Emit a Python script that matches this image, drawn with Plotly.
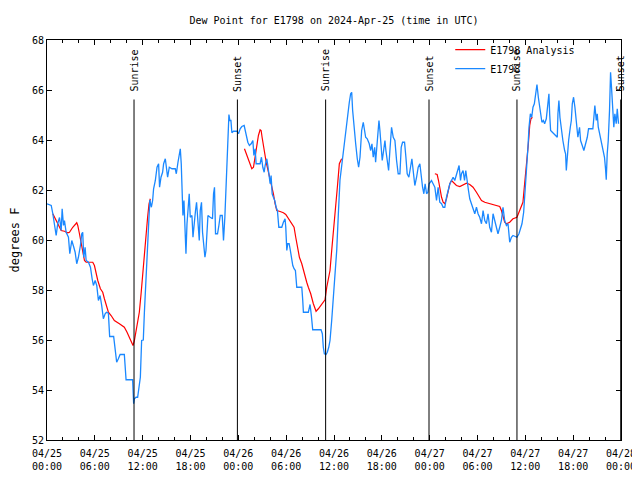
import pandas as pd
import plotly.graph_objects as go

BASE = pd.Timestamp("2024-04-25 00:00")

# E1798 observations: hours since 2024-04-25 00:00 UTC, dew point (F)
obs_hours = [0.0, 0.53, 0.73, 0.94, 1.15, 1.35, 1.57, 1.78, 1.90, 2.07, 2.19, 2.40, 2.69, 2.86, 3.11, 3.36, 3.53, 3.73, 3.94, 4.19,
             4.36, 4.48, 4.61, 4.78, 4.91, 5.20, 5.45, 5.66, 5.82, 6.04, 6.24, 6.45, 6.66, 6.86, 7.07, 7.29, 7.45, 7.70, 7.86, 8.36,
             8.54, 8.74, 8.95, 9.17, 9.70, 9.83, 9.92, 10.74, 10.79, 10.87, 10.96, 11.17, 11.37, 11.58, 11.71, 11.87, 12.08, 12.21, 12.42, 12.62,
             12.80, 12.90, 13.09, 13.25, 13.37, 13.59, 13.80, 14.00, 14.12, 14.30, 14.50, 14.63, 14.84, 14.96, 15.13, 15.34, 15.68, 16.09, 16.22, 16.43,
             16.59, 16.72, 16.84, 16.93, 17.05, 17.18, 17.31, 17.43, 17.56, 17.72, 17.84, 17.97, 18.18, 18.31, 18.47, 18.63, 18.76, 18.93, 19.10, 19.22,
             19.38, 19.51, 19.68, 19.81, 19.94, 20.06, 20.19, 20.47, 20.76, 20.89, 21.01, 21.14, 21.39, 21.56, 21.73, 21.98, 22.14, 22.31, 22.44, 22.56,
             22.69, 22.82, 22.94, 23.07, 23.19, 23.39, 23.82, 24.02, 24.23, 24.44, 24.73, 24.98, 25.19, 25.39, 25.61, 25.82, 25.95, 26.11, 26.23, 26.73,
             26.90, 27.07, 27.24, 27.36, 27.57, 27.70, 27.82, 27.99, 28.11, 28.24, 28.40, 28.57, 28.74, 28.90, 29.08, 29.45, 29.65, 29.86, 29.95, 30.08,
             30.20, 30.37, 30.49, 30.62, 30.83, 30.99, 31.16, 31.33, 31.96, 32.08, 32.16, 32.78, 33.00, 33.16, 33.33, 34.37, 34.54, 34.66, 34.79, 35.00,
             35.16, 35.34, 35.50, 35.71, 35.91, 36.13, 36.34, 36.54, 36.75, 36.94, 37.29, 37.50, 37.72, 37.92, 38.09, 38.22, 38.34, 38.50, 38.72, 38.92,
             39.09, 39.26, 39.47, 39.67, 39.79, 39.97, 40.17, 40.42, 40.60, 40.76, 40.92, 41.10, 41.22, 41.42, 41.64, 41.76, 41.89, 42.05, 42.17, 42.39,
             42.51, 42.67, 42.85, 43.01, 43.22, 43.43, 43.64, 43.85, 44.05, 44.27, 44.43, 44.60, 44.85, 45.02, 45.18, 45.39, 45.56, 45.77, 45.93, 46.14,
             46.36, 46.56, 46.77, 46.93, 47.11, 47.27, 47.43, 47.61, 47.77, 47.93, 48.23, 48.43, 48.65, 48.86, 49.06, 49.27, 49.49, 49.69, 49.90, 50.11,
             50.31, 50.53, 50.74, 50.94, 51.15, 51.36, 51.53, 51.69, 51.87, 51.99, 52.19, 52.37, 52.53, 52.69, 52.87, 53.03, 53.24, 53.44, 53.66, 53.87,
             54.07, 54.28, 54.50, 54.70, 54.91, 55.12, 55.32, 55.53, 55.75, 55.95, 56.16, 56.37, 56.57, 56.79, 57.00, 57.20, 57.41, 57.63, 57.83, 58.04,
             58.25, 58.45, 58.95, 59.20, 59.38, 59.58, 59.79, 59.92, 60.04, 60.21, 60.33, 60.46, 60.63, 60.80, 60.96, 61.13, 61.30, 61.46, 61.63, 61.80,
             61.92, 62.08, 62.26, 62.42, 62.63, 62.83, 62.96, 63.05, 63.17, 63.39, 63.59, 63.89, 64.01, 64.09, 64.21, 64.34, 64.51, 64.71, 64.93, 65.05,
             65.14, 65.26, 65.43, 65.64, 65.77, 65.89, 66.05, 66.22, 66.39, 66.59, 66.80, 66.93, 67.14, 67.34, 67.56, 67.77, 67.93, 68.47, 68.60, 68.72,
             68.90, 69.02, 69.15, 69.31, 69.52, 69.72, 69.93, 70.06, 70.15, 70.27, 70.40, 70.56, 70.69, 70.81, 70.98, 71.10, 71.23, 71.40, 71.53, 71.69]
obs_values = [61.45, 61.38, 61.05, 60.50, 60.18, 60.66, 60.90, 60.38, 61.25, 60.58, 60.78, 60.31, 60.11, 59.45, 59.98, 59.71, 59.51, 59.05, 59.31, 59.78,
              60.25, 60.31, 59.30, 59.71, 59.18, 59.11, 58.91, 58.45, 58.18, 58.38, 58.18, 57.58, 57.78, 57.38, 56.85, 57.05, 57.11, 57.07, 56.14, 56.14,
              55.58, 55.11, 55.25, 55.42, 55.42, 54.91, 54.41, 54.41, 53.91, 53.45, 53.65, 53.71, 53.71, 54.11, 54.51, 55.98, 56.00, 57.06, 58.38, 59.71,
              60.51, 61.60, 61.31, 61.58, 62.05, 62.38, 62.91, 63.05, 62.11, 62.51, 62.71, 63.05, 63.25, 62.98, 62.51, 62.91, 62.85, 62.85, 62.65, 63.11,
              63.45, 63.65, 63.05, 61.65, 60.98, 61.58, 59.98, 59.45, 60.65, 61.31, 61.85, 60.91, 60.98, 60.11, 60.78, 61.18, 61.51, 60.51, 59.98, 61.18,
              61.51, 60.31, 59.65, 59.31, 59.58, 60.31, 60.98, 60.91, 60.85, 61.85, 62.11, 60.25, 60.25, 60.58, 60.98, 60.98, 59.98, 60.91, 61.98, 63.18,
              64.38, 65.02, 64.78, 64.78, 64.29, 64.35, 64.35, 64.25, 64.45, 64.54, 64.58, 64.25, 63.91, 63.78, 63.85, 63.98, 63.38, 63.65, 63.05, 63.05,
              63.31, 62.91, 62.71, 62.98, 63.25, 62.98, 62.58, 62.25, 62.58, 61.85, 61.71, 61.58, 61.31, 61.18, 60.51, 60.51, 60.71, 60.85, 60.51, 59.58,
              59.85, 59.85, 59.65, 59.31, 58.98, 58.85, 58.78, 58.11, 58.11, 57.58, 57.11, 57.11, 57.42, 56.98, 56.41, 56.41, 56.25, 55.71, 55.45, 55.42,
              55.51, 55.71, 55.98, 56.78, 57.58, 58.38, 59.58, 61.00, 62.40, 62.90, 63.85, 64.51, 65.05, 65.51, 65.85, 65.91, 65.18, 64.51, 63.85, 63.25,
              62.91, 63.31, 64.38, 64.71, 64.51, 64.11, 64.05, 63.85, 63.58, 63.85, 63.31, 63.71, 63.11, 64.11, 64.78, 64.38, 63.71, 63.18, 63.45, 63.98,
              63.58, 63.18, 62.78, 63.58, 64.51, 64.11, 63.98, 63.18, 62.65, 62.65, 63.71, 63.91, 63.91, 63.31, 62.65, 62.51, 62.78, 63.25, 62.78, 62.18,
              62.51, 62.91, 63.05, 62.51, 62.11, 61.85, 62.25, 61.85, 61.91, 62.25, 62.38, 62.25, 62.11, 61.58, 62.11, 61.51, 61.45, 61.31, 61.31, 61.71,
              61.98, 62.25, 62.38, 62.51, 62.38, 62.65, 62.85, 62.98, 62.38, 62.65, 62.78, 62.38, 62.78, 62.31, 61.98, 61.65, 61.45, 61.31, 61.05, 61.31,
              61.05, 60.91, 60.65, 61.18, 60.78, 60.65, 61.05, 60.51, 60.31, 61.05, 60.78, 60.45, 60.25, 60.51, 60.78, 61.31, 60.78, 60.58, 60.65, 59.91,
              60.11, 60.18, 60.11, 60.25, 60.45, 60.65, 61.11, 61.71, 62.11, 63.05, 63.71, 64.51, 65.05, 64.91, 65.31, 65.45, 65.91, 66.22, 65.71, 65.31,
              65.05, 64.71, 64.78, 64.65, 64.85, 65.45, 65.85, 65.05, 64.38, 64.31, 64.25, 64.18, 64.11, 65.05, 65.58, 64.91, 64.38, 63.98, 63.58, 63.45,
              62.78, 63.45, 63.98, 64.51, 64.78, 65.45, 65.71, 65.31, 64.65, 64.11, 64.51, 63.98, 63.78, 63.58, 63.85, 64.11, 64.45, 64.45, 64.91, 65.38,
              64.78, 65.05, 64.51, 64.25, 63.85, 63.65, 63.31, 62.85, 62.41, 63.45, 63.98, 65.18, 66.71, 66.11, 65.18, 64.51, 65.05, 64.65, 65.25, 64.65]

# E1798 Analysis: three separate runs (None marks a gap)
ana_hours = [0.73, 1.15, 1.57, 1.78, 2.19, 2.60, 2.82, 3.23, 3.73, 3.86, 4.07, 4.28, 4.48, 4.70, 4.91, 5.74, 5.95, 6.16, 6.37, 6.70,
             6.99, 7.20, 7.45, 7.70, 8.04, 8.45, 9.08, 9.70, 10.04, 10.33, 10.62, 10.79, 10.96, 11.17, 11.37, 11.58, 11.80, 12.00, 12.20, 12.42,
             12.62, 12.80, 12.96, None,
             24.77, 25.06, 25.39, 25.69, 25.90, 26.11, 26.32, 26.52, 26.73, 26.86, 26.98, 27.15, 27.32, 27.49, 27.65, 27.90, 28.20, 28.40, 28.61, 28.82,
             29.24, 29.65, 29.95, 30.28, 30.70, 30.99, 31.20, 31.40, 31.66, 31.96, 32.16, 32.37, 32.58, 32.78, 33.08, 33.41, 33.75, 34.04, 34.46, 34.87,
             35.09, 35.29, 35.50, 35.71, 35.91, 36.13, 36.34, 36.46, 36.67, 36.96, None,
             48.65, 48.94, 49.11, 49.27, 49.49, 49.69, 49.90, 50.11, 50.31, 50.53, 50.74, 50.94, 51.36, 51.78, 52.19, 52.62, 53.03, 53.44, 53.87, 54.19,
             54.50, 54.91, 55.53, 56.16, 56.79, 57.00, 57.20, 57.41, 57.63, 58.04, 58.45, 58.95, 59.20, 59.50, 59.70, 59.87, 60.04, 60.21, 60.38, 60.55,
             60.71, 60.88]
ana_values = [61.05, 60.78, 60.51, 60.38, 60.35, 60.29, 60.31, 60.51, 60.69, 60.58, 60.25, 59.85, 59.58, 59.18, 59.11, 59.11, 58.98, 58.65, 58.38, 58.05,
              57.91, 57.65, 57.38, 57.11, 56.98, 56.78, 56.65, 56.51, 56.31, 56.11, 55.91, 55.78, 55.98, 56.38, 56.71, 57.11, 57.85, 58.65, 59.45, 60.25,
              60.91, 61.45, 61.65, None,
              63.65, 63.38, 63.11, 62.85, 62.91, 63.31, 63.85, 64.18, 64.41, 64.38, 64.11, 63.85, 63.45, 63.11, 62.91, 62.51, 62.18, 61.85, 61.45, 61.18,
              61.14, 61.09, 61.02, 60.85, 60.65, 60.51, 60.11, 59.71, 59.31, 59.05, 58.78, 58.58, 58.31, 58.11, 57.85, 57.45, 57.15, 57.25, 57.45, 57.61,
              58.11, 58.38, 58.78, 59.58, 60.25, 60.91, 61.71, 62.25, 63.05, 63.25, None,
              62.65, 62.62, 62.38, 62.05, 61.71, 61.51, 61.45, 61.65, 61.91, 62.25, 62.38, 62.31, 62.18, 62.14, 62.22, 62.27, 62.22, 62.11, 61.91, 61.71,
              61.58, 61.51, 61.45, 61.42, 61.34, 61.18, 60.91, 60.71, 60.65, 60.71, 60.85, 60.91, 61.11, 61.31, 61.51, 62.11, 62.65, 63.18, 63.85, 64.58,
              64.85, 64.91]

sun_events = ["Sunrise", "Sunset", "Sunrise", "Sunset", "Sunrise", "Sunset"]
sun_times = ["2024-04-25 10:55", "2024-04-25 23:53", "2024-04-26 10:57",
             "2024-04-26 23:55", "2024-04-27 10:57", "2024-04-27 23:58"]


def to_time(hours):
    return [None if h is None else BASE + pd.Timedelta(hours=h) for h in hours]


fig = go.Figure()
fig.add_trace(go.Scatter(x=to_time(ana_hours), y=ana_values, mode="lines", name="E1798 Analysis",
                         line=dict(color="#ff0000", width=1.2), connectgaps=False))
fig.add_trace(go.Scatter(x=to_time(obs_hours), y=obs_values, mode="lines", name="E1798",
                         line=dict(color="#1a88ff", width=1.3)))

for ev, t in zip(sun_events, sun_times):
    fig.add_shape(type="line", xref="x", yref="y", x0=t, x1=t, y0=52, y1=65.62,
                  line=dict(color="black", width=1))
    fig.add_annotation(x=t, y=65.86, xref="x", yref="y", text=ev, textangle=-90,
                       showarrow=False, xanchor="center", yanchor="bottom",
                       font=dict(size=10, color="black"))

# page body adds an 8px offset, so the figure is 632x472 and margins compensate
fig.update_layout(
    width=632, height=472,
    margin=dict(l=39, r=19, t=32, b=40, autoexpand=False),
    paper_bgcolor="white", plot_bgcolor="white",
    font=dict(family="DejaVu Sans Mono", size=10, color="black"),
    title=dict(text="Dew Point for E1798 on 2024-Apr-25 (time in UTC)", x=0.5, xref="paper",
               y=1 - 12 / 472, yref="container", xanchor="center", yanchor="middle",
               font=dict(size=10)),
    showlegend=True,
    legend=dict(x=0.929, y=1.012, xanchor="right", yanchor="top", bgcolor="rgba(0,0,0,0)",
                font=dict(size=10), tracegroupgap=0, itemwidth=30),
)
fig.update_xaxes(
    type="date", range=["2024-04-25 00:00", "2024-04-28 00:00"],
    tickmode="linear", tick0="2024-04-25 00:00", dtick=6 * 3600 * 1000,
    tickformat="%m/%d<br>%H:%M", ticks="inside", ticklen=5, tickcolor="black",
    ticklabelstandoff=4,
    minor=dict(dtick=2 * 3600 * 1000, tick0="2024-04-25 00:00", ticks="inside", ticklen=3, tickcolor="black"),
    showline=True, linecolor="black", linewidth=1, mirror="ticks",
    showgrid=False, zeroline=False,
)
fig.update_yaxes(
    range=[52, 68], tickmode="linear", tick0=52, dtick=2,
    ticks="inside", ticklen=5, tickcolor="black",
    showline=True, linecolor="black", linewidth=1, mirror="ticks",
    showgrid=False, zeroline=False,
    title=dict(text="degrees F", standoff=14),
)

fig.write_html("out.html")
